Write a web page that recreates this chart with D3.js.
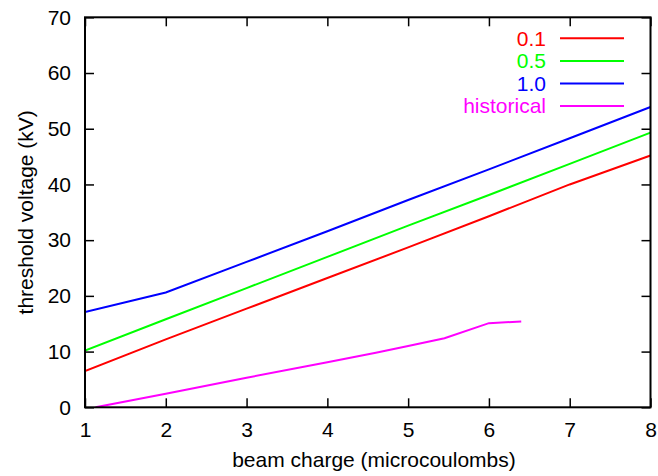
<!DOCTYPE html>
<html>
<head>
<meta charset="utf-8">
<script src="https://cdn.jsdelivr.net/npm/d3@7"></script>
<style>
body { margin: 0; background: #fff; }
text { font-family: "Liberation Sans", Arial, Helvetica, sans-serif; }
</style>
</head>
<body>
<svg id="chart" width="658" height="476"></svg>
<script>
const xTicks = [1, 2, 3, 4, 5, 6, 7, 8];
const yTicks = [0, 10, 20, 30, 40, 50, 60, 70];
const xCharge = [1, 2, 3, 4, 5, 6, 7, 8];
const v01 = [6.5, 12.2, 17.7, 23.2, 28.7, 34.3, 40.0, 45.2];
const v05 = [10.2, 15.8, 21.4, 27.0, 32.6, 38.1, 43.7, 49.3];
const v10 = [17.1, 20.6, 26.1, 31.6, 37.2, 42.7, 48.3, 53.9];
const histX = [1.13, 2, 3, 4, 4.6, 5, 5.45, 6.0, 6.4];
const histY = [0, 2.45, 5.3, 8.1, 9.8, 11.0, 12.4, 15.1, 15.4];
const seriesNames = ["0.1", "0.5", "1.0", "historical"];
const seriesColors = ["#ff0000", "#00ff00", "#0000ff", "#ff00ff"];
const xLabel = "beam charge (microcoulombs)";
const yLabel = "threshold voltage (kV)";

const series = [
  { name: seriesNames[0], color: seriesColors[0], pts: xCharge.map((x, i) => [x, v01[i]]) },
  { name: seriesNames[1], color: seriesColors[1], pts: xCharge.map((x, i) => [x, v05[i]]) },
  { name: seriesNames[2], color: seriesColors[2], pts: xCharge.map((x, i) => [x, v10[i]]) },
  { name: seriesNames[3], color: seriesColors[3], pts: histX.map((x, i) => [x, histY[i]]) }
];

const svg = d3.select("#chart");
const L = 85, R = 650.5, T = 17.3, B = 407.3;
const x = d3.scaleLinear().domain([1, 8]).range([L, R]);
const y = d3.scaleLinear().domain([0, 70]).range([B, T]);
const fs = 21;
const tick = 9;

svg.append("clipPath").attr("id", "clip").append("rect")
  .attr("x", L).attr("y", T).attr("width", R - L).attr("height", B - T);

const line = d3.line().x(d => x(d[0])).y(d => y(d[1]));
svg.append("g").attr("clip-path", "url(#clip)")
  .selectAll("path").data(series).join("path")
  .attr("d", d => line(d.pts))
  .attr("fill", "none").attr("stroke", d => d.color).attr("stroke-width", 2);

const fmt = d3.format("d");
const gB = svg.append("g").attr("transform", `translate(0,${B})`)
  .call(d3.axisBottom(x).tickValues(xTicks).tickSize(-tick).tickFormat(fmt).tickSizeOuter(0));
const gT = svg.append("g").attr("transform", `translate(0,${T})`)
  .call(d3.axisTop(x).tickValues(xTicks).tickSize(-tick).tickFormat("").tickSizeOuter(0));
const gL = svg.append("g").attr("transform", `translate(${L},0)`)
  .call(d3.axisLeft(y).tickValues(yTicks).tickSize(-tick).tickFormat(fmt).tickSizeOuter(0));
const gR = svg.append("g").attr("transform", `translate(${R},0)`)
  .call(d3.axisRight(y).tickValues(yTicks).tickSize(-tick).tickFormat("").tickSizeOuter(0));

[gB, gT, gL, gR].forEach(g => {
  g.select(".domain").remove();
  g.selectAll(".tick line").attr("stroke", "#000").attr("stroke-width", 1.5);
  g.selectAll(".tick text").attr("font-size", fs).attr("fill", "#000")
    .style("font-family", "'Liberation Sans', Arial, sans-serif");
});
gB.selectAll(".tick text").attr("y", 30).attr("dy", null);
gL.selectAll(".tick text").attr("x", -14);

svg.append("rect").attr("x", L).attr("y", T).attr("width", R - L).attr("height", B - T)
  .attr("fill", "none").attr("stroke", "#000").attr("stroke-width", 2);

svg.append("text").attr("x", 374).attr("y", 467).attr("text-anchor", "middle")
  .attr("font-size", fs).text(xLabel);
svg.append("text").attr("transform", `translate(33,${(T + B) / 2}) rotate(-90)`)
  .attr("text-anchor", "middle").attr("font-size", fs).text(yLabel);

const leg = svg.append("g");
series.forEach((s, i) => {
  const yy = 38.3 + i * 22.6;
  leg.append("text").attr("x", 546).attr("y", yy).attr("dy", "0.35em")
    .attr("text-anchor", "end").attr("font-size", fs).attr("fill", s.color).text(s.name);
  leg.append("line").attr("x1", 560).attr("x2", 624).attr("y1", yy).attr("y2", yy)
    .attr("stroke", s.color).attr("stroke-width", 2);
});
</script>
</body>
</html>
